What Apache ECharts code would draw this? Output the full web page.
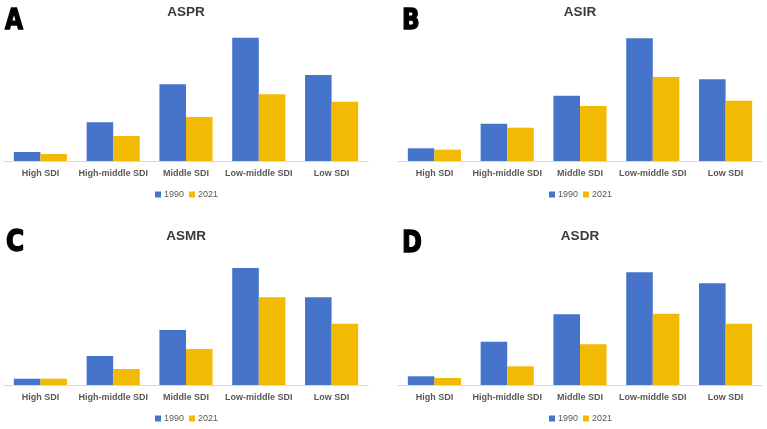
<!DOCTYPE html>
<html>
<head>
<meta charset="utf-8">
<script src="https://cdn.jsdelivr.net/npm/echarts@6/dist/echarts.min.js"></script>
<style>
  html, body { margin: 0; padding: 0; background: #fff; }
  #chart { width: 767px; height: 429px; }
</style>
</head>
<body>
<div id="chart"></div>
<script>
// categories and legend names
const categories = ['High SDI', 'High-middle SDI', 'Middle SDI', 'Low-middle SDI', 'Low SDI'];
const years = ['1990', '2021'];
const panelTitles = ['ASPR', 'ASIR', 'ASMR', 'ASDR'];
const panelLetters = ['A', 'B', 'C', 'D'];

// relative bar heights (no axis values shown)
const aspr1990 = [9, 38.7, 76.7, 123.3, 86];
const aspr2021 = [7, 25, 44, 66.7, 59.3];
const asir1990 = [12.7, 37.3, 65.3, 122.7, 81.7];
const asir2021 = [11.3, 33.3, 55, 84, 60.3];
const asmr1990 = [6.3, 29, 55, 117, 87.7];
const asmr2021 = [6.3, 16, 36, 87.7, 61.3];
const asdr1990 = [8.7, 43.3, 70.7, 112.7, 101.7];
const asdr2021 = [7, 18.7, 40.7, 71.3, 61.3];

const panelData = [
  [aspr1990, aspr2021],
  [asir1990, asir2021],
  [asmr1990, asmr2021],
  [asdr1990, asdr2021]
];

const colors = ['#4674CB', '#F2BA02'];

// panel layout: grid left / top, title & legend positions
const panels = [
  { left: 4,   top: 31,  letterX: 5,   letterY: 7,   letterSize: 29, titleY: 5,   legendX: 155, legendY: 190 },
  { left: 398, top: 31,  letterX: 402, letterY: 7,   letterSize: 29, titleY: 5,   legendX: 549, legendY: 190 },
  { left: 4,   top: 255, letterX: 6,   letterY: 227, letterSize: 31, titleY: 229, legendX: 155, legendY: 414 },
  { left: 398, top: 255, letterX: 402, letterY: 229, letterSize: 30, titleY: 229, legendX: 549, legendY: 414 }
];
const gridW = 364;
const gridH = 130;

const chart = echarts.init(document.getElementById('chart'));

const grid = [], xAxis = [], yAxis = [], series = [], title = [], legend = [], graphic = [];

panels.forEach(function (p, i) {
  grid.push({ left: p.left, top: p.top, width: gridW, height: gridH, containLabel: false });
  xAxis.push({
    type: 'category',
    gridIndex: i,
    data: categories,
    axisLine: { lineStyle: { color: '#d9d9d9', width: 1 } },
    axisTick: { show: false },
    axisLabel: {
      interval: 0,
      margin: 8,
      color: '#595959',
      fontSize: 9,
      fontWeight: 'bold',
      fontFamily: 'Liberation Sans, Arial, sans-serif'
    }
  });
  yAxis.push({
    type: 'value',
    gridIndex: i,
    min: 0,
    max: gridH,
    show: false,
    splitLine: { show: false }
  });
  years.forEach(function (y, k) {
    series.push({
      name: y,
      type: 'bar',
      xAxisIndex: i,
      yAxisIndex: i,
      data: panelData[i][k],
      barGap: '0%',
      barCategoryGap: '27%',
      itemStyle: { color: colors[k] },
      emphasis: { disabled: true }
    });
  });
  title.push({
    text: panelTitles[i],
    left: p.left + gridW / 2,
    top: p.titleY,
    padding: 0,
    textAlign: 'center',
    textStyle: {
      fontSize: 13.5,
      fontWeight: 'bold',
      color: '#3a3a3a',
      fontFamily: 'Liberation Sans, Arial, sans-serif'
    }
  });
  legend.push({
    data: years,
    left: p.legendX,
    top: p.legendY,
    padding: 0,
    itemWidth: 6,
    itemHeight: 6,
    itemGap: 5,
    icon: 'rect',
    selectedMode: false,
    textStyle: {
      fontSize: 9,
      color: '#595959',
      padding: [0, 0, 0, -2],
      fontFamily: 'Liberation Sans, Arial, sans-serif'
    }
  });
  // heavy, narrow panel letter
  graphic.push({
    type: 'text',
    x: p.letterX,
    y: p.letterY,
    scaleX: 0.8,
    style: {
      text: panelLetters[i],
      font: 'bold ' + p.letterSize + 'px "DejaVu Sans", sans-serif',
      verticalAlign: 'top',
      fill: '#000',
      stroke: '#000',
      lineWidth: 1.5
    }
  });
});

chart.setOption({
  animation: false,
  color: colors,
  grid: grid,
  xAxis: xAxis,
  yAxis: yAxis,
  title: title,
  legend: legend,
  graphic: graphic,
  series: series
});
</script>
</body>
</html>
